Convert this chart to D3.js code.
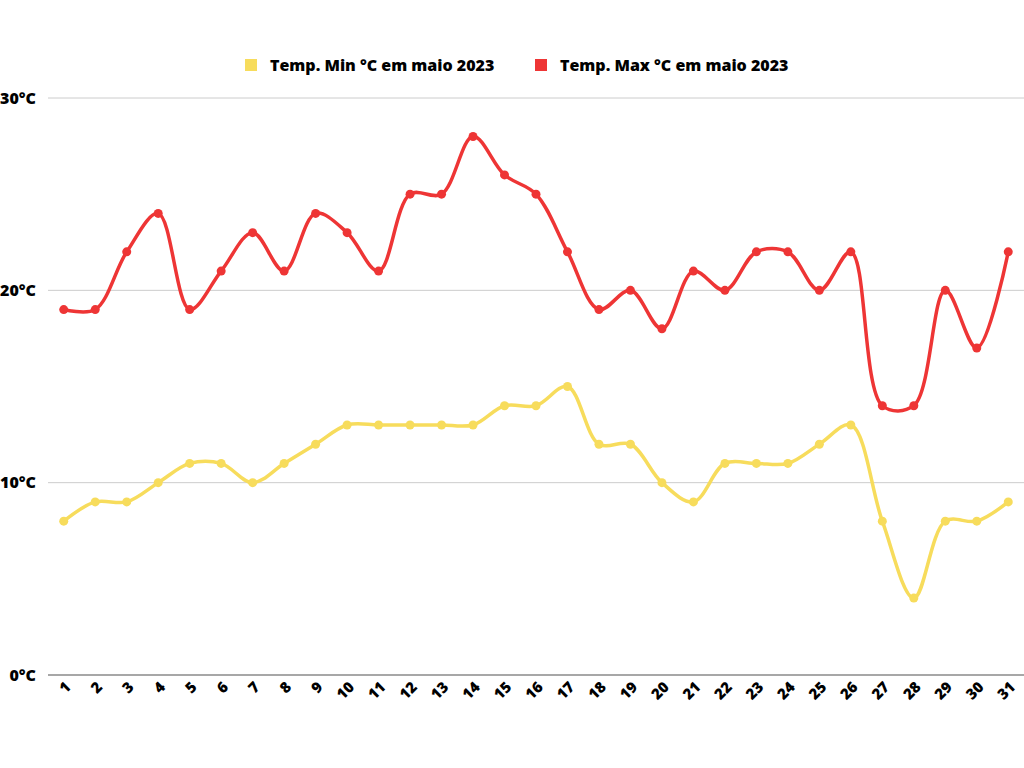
<!DOCTYPE html>
<html>
<head>
<meta charset="utf-8">
<script src="https://cdn.jsdelivr.net/npm/d3@7"></script>
<style>
  body { margin: 0; background: #fff; }
  text { font-family: "Open Sans", sans-serif; font-weight: 800; fill: #000; }
</style>
</head>
<body>
<script>
var days = d3.range(1, 32).map(String);
var tempMin = [8, 9, 9, 10, 11, 11, 10, 11, 12, 13, 13, 13, 13, 13, 14, 14, 15, 12, 12, 10, 9, 11, 11, 11, 12, 13, 8, 4, 8, 8, 9];
var tempMax = [19, 19, 22, 24, 19, 21, 23, 21, 24, 23, 21, 25, 25, 28, 26, 25, 22, 19, 20, 18, 21, 20, 22, 22, 20, 22, 14, 14, 20, 17, 22];
var yTicks = [0, 10, 20, 30];
var seriesNames = ["Temp. Min °C em maio 2023", "Temp. Max °C em maio 2023"];
var colors = ["#f7dc5c", "#ee3535"];

var w = 1024, h = 768;
var plotLeft = 48, plotRight = 1024, plotTop = 98, plotBottom = 675;

var svg = d3.select("body").append("svg")
    .attr("width", w)
    .attr("height", h);

var x = d3.scaleBand().domain(days).range([plotLeft, plotRight]);
var y = d3.scaleLinear().domain([0, 30]).range([plotBottom, plotTop]);

// grid lines
svg.selectAll(".grid")
    .data(yTicks)
    .enter()
    .append("line")
    .attr("x1", plotLeft)
    .attr("x2", plotRight)
    .attr("y1", function(d) { return y(d); })
    .attr("y2", function(d) { return y(d); })
    .attr("stroke", function(d) { return d === 0 ? "#8a8a8a" : "#cccccc"; })
    .attr("stroke-width", function(d) { return d === 0 ? 1.5 : 1; });

svg.selectAll(".ylab")
    .data(yTicks)
    .enter()
    .append("text")
    .attr("x", 36)
    .attr("y", function(d) { return y(d); })
    .attr("dy", "0.35em")
    .attr("text-anchor", "end")
    .attr("font-size", 16)
    .text(function(d) { return d + "°C"; });

svg.selectAll(".xlab")
    .data(days)
    .enter()
    .append("text")
    .attr("text-anchor", "end")
    .attr("font-size", 15)
    .attr("transform", function(d) {
        return "translate(" + (x(d) + x.bandwidth() / 2 + 8) + "," + 688 + ") rotate(-45)";
    })
    .text(function(d) { return d; });

var line = d3.line()
    .x(function(d, i) { return x(days[i]) + x.bandwidth() / 2; })
    .y(function(d) { return y(d); })
    .curve(d3.curveCatmullRom.alpha(0.5));

[tempMin, tempMax].forEach(function(series, k) {
    svg.append("path")
        .datum(series)
        .attr("d", line)
        .attr("fill", "none")
        .attr("stroke", colors[k])
        .attr("stroke-width", 3.5);

    svg.selectAll(".pt" + k)
        .data(series)
        .enter()
        .append("circle")
        .attr("cx", function(d, i) { return x(days[i]) + x.bandwidth() / 2; })
        .attr("cy", function(d) { return y(d); })
        .attr("r", 4.5)
        .attr("fill", colors[k]);
});

// legend
var legendX = [245, 535];
var legend = svg.selectAll(".legend")
    .data(seriesNames)
    .enter()
    .append("g")
    .attr("transform", function(d, i) { return "translate(" + legendX[i] + ",65)"; });

legend.append("rect")
    .attr("x", 0)
    .attr("y", -6)
    .attr("width", 12)
    .attr("height", 12)
    .attr("fill", function(d, i) { return colors[i]; });

legend.append("text")
    .attr("x", 25)
    .attr("dy", "0.35em")
    .attr("font-size", 16)
    .text(function(d) { return d; });
</script>
</body>
</html>
